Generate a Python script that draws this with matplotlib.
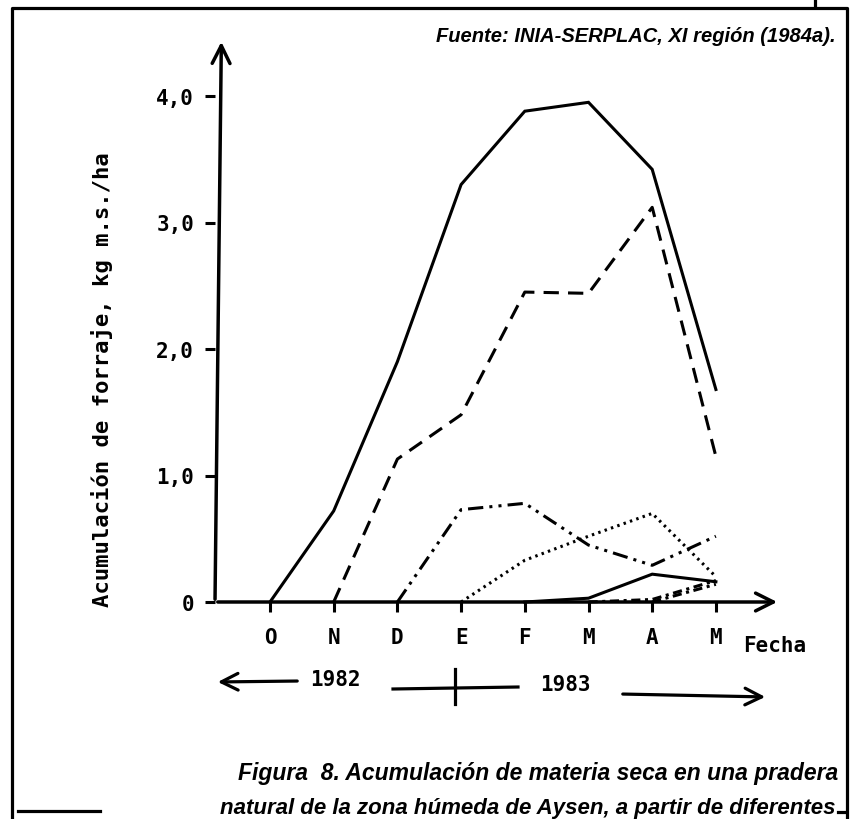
import numpy as np
import matplotlib.pyplot as plt

W, H = 852, 820

# meses (octubre 1982 - mayo 1983)
meses = ['O', 'N', 'D', 'E', 'F', 'M', 'A', 'M']
y_ticks = [0, 1, 2, 3, 4]
y_ticklabels = ['0', '1,0', '2,0', '3,0', '4,0']

# acumulacion de materia seca, kg m.s./ha (x1000), segun mes de inicio
desde_oct = [0.0, 0.72, 1.9, 3.3, 3.88, 3.95, 3.42, 1.68]
desde_nov = [0.0, 1.13, 1.48, 2.45, 2.44, 3.12, 1.15]
desde_dic = [0.0, 0.73, 0.78, 0.45, 0.29, 0.52]
desde_ene = [0.0, 0.33, 0.52, 0.70, 0.20]
desde_feb = [0.0, 0.03, 0.22, 0.16]
desde_mar = [0.0, 0.02, 0.17]
desde_abr = [0.0, 0.14]

series = [
    (desde_oct, dict(ls='-')),
    (desde_nov, dict(ls=(0, (5, 3)))),
    (desde_dic, dict(ls=(0, (5, 2, 1, 2, 1, 2)))),
    (desde_ene, dict(ls=(0, (0.8, 1.4)))),
    (desde_feb, dict(ls='-')),
    (desde_mar, dict(ls=(0, (3, 1.5, 1, 1.5)))),
    (desde_abr, dict(ls=(0, (3, 1.5, 1, 1.5)))),
]


def px(x, y):
    return x / W, 1 - y / H


fig = plt.figure(figsize=(W / 100, H / 100), dpi=100)

# ejes: pixel 270 -> O, 63.7 px por mes; 0 en y=603, 126.5 px por unidad
x0, y0, dx, dy = 270, 603, 63.7, 126.5
ax_l, ax_r, ax_t = 215, 790, 35
ax = fig.add_axes([ax_l / W, (H - y0) / H, (ax_r - ax_l) / W, (y0 - ax_t) / H])
ax.set_xlim((ax_l - x0) / dx, (ax_r - x0) / dx)
ax.set_ylim(0, (y0 - ax_t) / dy)
for s in ax.spines.values():
    s.set_visible(False)

n = len(meses)
for vals, st in series:
    start = n - len(vals)
    xs = np.arange(start, n)
    ax.plot(xs, vals, color='black', lw=2.2, solid_joinstyle='miter',
            clip_on=False, **st)

xmin = (ax_l - x0) / dx
ax.annotate('', xy=(xmin + 0.1, (y0 - 40) / dy), xytext=(xmin, 0),
            arrowprops=dict(arrowstyle='->', lw=2.5, mutation_scale=32, color='black'),
            annotation_clip=False)
ax.annotate('', xy=((780 - x0) / dx, 0), xytext=(xmin, 0),
            arrowprops=dict(arrowstyle='->', lw=2.5, mutation_scale=32, color='black'),
            annotation_clip=False)

mono = dict(family='DejaVu Sans Mono', weight='bold')
ax.set_yticks(y_ticks)
ax.set_yticklabels(y_ticklabels, fontsize=15, **mono)
ax.set_xticks(np.arange(n))
ax.set_xticklabels(meses, fontsize=15, **mono)
ax.tick_params(axis='y', direction='out', length=7, width=2.2, pad=8)
ax.tick_params(axis='x', direction='out', length=7, width=2.2, pad=11)

fig.text(*px(102, 380), 'Acumulación de forraje, kg m.s./ha', rotation=90,
         ha='center', va='center', fontsize=16, **mono)
fig.text(*px(775, 646), 'Fecha', ha='center', va='center', fontsize=15, **mono)

# años
fig.text(*px(335, 680), '1982', ha='center', va='center', fontsize=15, **mono)
fig.text(*px(565, 685), '1983', ha='center', va='center', fontsize=15, **mono)
arr = dict(arrowstyle='->', lw=2.3, mutation_scale=30, color='black')
fig.add_artist(plt.Line2D([393 / W, 518 / W], [1 - 690 / H, 1 - 688 / H], color='black', lw=2.3))
fig.add_artist(plt.Line2D([455 / W, 455 / W], [1 - 670 / H, 1 - 705 / H], color='black', lw=2.3))
ax.annotate('', xy=px(215, 683), xytext=px(300, 682), xycoords='figure fraction',
            textcoords='figure fraction', arrowprops=arr)
ax.annotate('', xy=px(768, 698), xytext=px(620, 695), xycoords='figure fraction',
            textcoords='figure fraction', arrowprops=arr)

# marco
frame = dict(color='black', lw=2.3)
fig.add_artist(plt.Line2D([12 / W, 12 / W, 847 / W, 847 / W],
                          [0, 1 - 9 / H, 1 - 9 / H, 0], **frame))
fig.add_artist(plt.Line2D([815 / W, 815 / W], [1, 1 - 8 / H], **frame))
fig.add_artist(plt.Line2D([18 / W, 100 / W], [1 - 812 / H, 1 - 812 / H], **frame))
fig.add_artist(plt.Line2D([838 / W, 846 / W], [1 - 813 / H, 1 - 813 / H], **frame))

# textos
sans = dict(family='Liberation Sans', style='italic', weight='bold')
fig.text(*px(836, 36), 'Fuente: INIA-SERPLAC, XI región (1984a).', ha='right',
         va='center', fontsize=14.5, **sans)
fig.text(*px(838, 774), 'Figura  8. Acumulación de materia seca en una pradera',
         ha='right', va='center', fontsize=16.5, **sans)
fig.text(*px(836, 819), 'natural de la zona húmeda de Aysen, a partir de diferentes',
         ha='right', va='bottom', fontsize=16, **sans)

fig.savefig('out.png', dpi=100)
